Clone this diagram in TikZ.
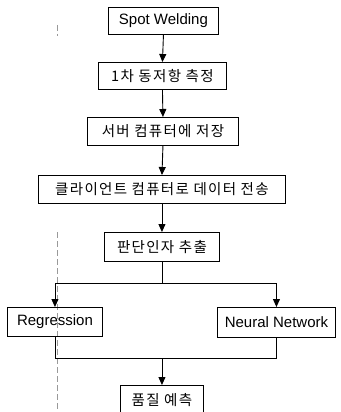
\documentclass[tikz,border=0pt]{standalone}
\usepackage{fontspec}
\setmainfont{Liberation Sans}
\newfontfamily\kr{Noto Sans CJK KR}[LetterSpace=9]
\usetikzlibrary{arrows.meta}
\tikzset{
  stepbox/.style={draw, line width=0.9pt, inner sep=0pt, anchor=north west},
  flow/.style={line width=0.9pt},
  arr/.style={flow, -{Triangle[width=7pt,length=8pt]}},
  scanline/.style={gray!80, line width=0.7pt, dash pattern=on 6pt off 3pt}
}
\begin{document}
\begin{tikzpicture}[x=1pt,y=-1pt]
\useasboundingbox (0,0) rectangle (340,412);
% faint dashed scan line
\draw[scanline] (57,232) -- (57,412);
\draw[scanline] (57,25) -- (57,36);
% boxes
\node[stepbox, minimum width=110pt, minimum height=27pt] (sw) at (108,7) {\fontsize{15}{17}\selectfont Spot Welding};
\node[stepbox, minimum width=128pt, minimum height=27pt] (m1) at (98,62) {\kr\fontsize{14.5}{16}\selectfont 1차 동저항 측정};
\node[stepbox, minimum width=151pt, minimum height=28pt] (srv) at (87,117) {\kr\fontsize{14.5}{16}\selectfont 서버 컴퓨터에 저장};
\node[stepbox, minimum width=247pt, minimum height=28pt] (cli) at (38,175) {\kr\fontsize{14.5}{16}\selectfont 클라이언트 컴퓨터로 데이터 전송};
\node[stepbox, minimum width=115pt, minimum height=29pt] (ext) at (104,232) {\kr\fontsize{14.5}{16}\selectfont 판단인자 추출};
\node[stepbox, minimum width=95pt, minimum height=29pt] (reg) at (7,307) {\fontsize{15}{17}\selectfont Regression};
\node[stepbox, minimum width=118pt, minimum height=30pt] (nn) at (217,307) {\fontsize{15}{17}\selectfont Neural Network};
\node[stepbox, minimum width=83pt, minimum height=30pt] (pq) at (120,385) {\kr\fontsize{14.5}{16}\selectfont 품질 예측};
% connectors
\draw[arr] (sw.south) -- (m1.north);
\draw[arr] (m1.south) -- (srv.north);
\draw[arr] (srv.south) -- (cli.north);
\draw[arr] (cli.south) -- (ext.north);
\coordinate (split) at (ext.south |- 0,283);
\draw[flow] (ext.south) -- (split);
\draw[arr] (split) -| (reg.north);
\draw[arr] (split) -| (nn.north);
\coordinate (join) at (pq.north |- 0,358);
\draw[flow] (reg.south) |- (join);
\draw[flow] (nn.south) |- (join);
\draw[arr] (join) -- (pq.north);
\end{tikzpicture}
\end{document}
